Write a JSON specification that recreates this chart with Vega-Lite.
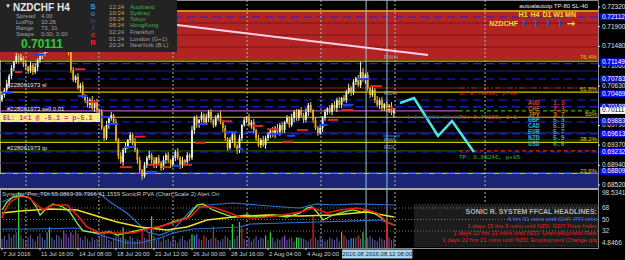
{
"$schema": "https://vega.github.io/schema/vega-lite/v6.json",
"width": 598, "height": 248,
"autosize": {"type": "none"},
"padding": {"left": 0, "top": 0, "right": 27, "bottom": 12},
"background": "#000000",
"config": {"view": {"stroke": "#8c8c8c", "strokeWidth": 1}, "legend": {"disable": true}, "font": "Liberation Sans Narrow, Liberation Sans, Arial, sans-serif"},
"datasets": {
"ohlc": [
{"i":0,"o":0.7033,"h":0.7050,"l":0.7029,"c":0.7044,"v":20,"vc":"n"},
{"i":1,"o":0.7044,"h":0.7059,"l":0.7038,"c":0.7055,"v":24,"vc":"n"},
{"i":2,"o":0.7055,"h":0.7076,"l":0.7050,"c":0.7068,"v":18,"vc":"n"},
{"i":3,"o":0.7068,"h":0.7089,"l":0.7059,"c":0.7085,"v":28,"vc":"n"},
{"i":4,"o":0.7085,"h":0.7108,"l":0.7078,"c":0.7102,"v":22,"vc":"n"},
{"i":5,"o":0.7102,"h":0.7117,"l":0.7095,"c":0.7115,"v":26,"vc":"n"},
{"i":6,"o":0.7115,"h":0.7134,"l":0.7110,"c":0.7127,"v":30,"vc":"n"},
{"i":7,"o":0.7127,"h":0.7132,"l":0.7112,"c":0.7119,"v":93,"vc":"g"},
{"i":8,"o":0.7119,"h":0.7132,"l":0.7115,"c":0.7123,"v":25,"vc":"n"},
{"i":9,"o":0.7123,"h":0.7127,"l":0.7104,"c":0.7112,"v":20,"vc":"n"},
{"i":10,"o":0.7112,"h":0.7119,"l":0.7097,"c":0.7104,"v":18,"vc":"n"},
{"i":11,"o":0.7104,"h":0.7106,"l":0.7089,"c":0.7095,"v":22,"vc":"n"},
{"i":12,"o":0.7095,"h":0.7115,"l":0.7091,"c":0.7108,"v":26,"vc":"n"},
{"i":13,"o":0.7108,"h":0.7112,"l":0.7087,"c":0.7093,"v":20,"vc":"n"},
{"i":14,"o":0.7093,"h":0.7112,"l":0.7089,"c":0.7104,"v":16,"vc":"n"},
{"i":15,"o":0.7104,"h":0.7123,"l":0.7095,"c":0.7119,"v":24,"vc":"n"},
{"i":16,"o":0.7119,"h":0.7134,"l":0.7112,"c":0.7127,"v":28,"vc":"n"},
{"i":17,"o":0.7127,"h":0.7134,"l":0.7121,"c":0.7132,"v":22,"vc":"n"},
{"i":18,"o":0.7132,"h":0.7147,"l":0.7127,"c":0.7140,"v":18,"vc":"n"},
{"i":19,"o":0.7140,"h":0.7153,"l":0.7134,"c":0.7149,"v":30,"vc":"b"},
{"i":20,"o":0.7149,"h":0.7166,"l":0.7144,"c":0.7157,"v":38,"vc":"g"},
{"i":21,"o":0.7157,"h":0.7166,"l":0.7149,"c":0.7162,"v":22,"vc":"n"},
{"i":22,"o":0.7162,"h":0.7168,"l":0.7147,"c":0.7153,"v":18,"vc":"n"},
{"i":23,"o":0.7153,"h":0.7168,"l":0.7147,"c":0.7166,"v":26,"vc":"n"},
{"i":24,"o":0.7166,"h":0.7179,"l":0.7162,"c":0.7172,"v":24,"vc":"n"},
{"i":25,"o":0.7172,"h":0.7176,"l":0.7155,"c":0.7162,"v":20,"vc":"n"},
{"i":26,"o":0.7162,"h":0.7170,"l":0.7151,"c":0.7155,"v":33,"vc":"m"},
{"i":27,"o":0.7155,"h":0.7159,"l":0.7140,"c":0.7149,"v":28,"vc":"n"},
{"i":28,"o":0.7149,"h":0.7155,"l":0.7129,"c":0.7136,"v":22,"vc":"n"},
{"i":29,"o":0.7136,"h":0.7138,"l":0.7091,"c":0.7097,"v":30,"vc":"m"},
{"i":30,"o":0.7097,"h":0.7104,"l":0.7072,"c":0.7076,"v":26,"vc":"n"},
{"i":31,"o":0.7076,"h":0.7087,"l":0.7070,"c":0.7083,"v":34,"vc":"r"},
{"i":32,"o":0.7083,"h":0.7091,"l":0.7055,"c":0.7059,"v":28,"vc":"n"},
{"i":33,"o":0.7059,"h":0.7070,"l":0.7050,"c":0.7065,"v":22,"vc":"n"},
{"i":34,"o":0.7065,"h":0.7072,"l":0.7038,"c":0.7044,"v":18,"vc":"n"},
{"i":35,"o":0.7044,"h":0.7046,"l":0.7027,"c":0.7033,"v":24,"vc":"n"},
{"i":36,"o":0.7033,"h":0.7040,"l":0.7018,"c":0.7023,"v":20,"vc":"n"},
{"i":37,"o":0.7023,"h":0.7038,"l":0.7016,"c":0.7033,"v":16,"vc":"n"},
{"i":38,"o":0.7033,"h":0.7042,"l":0.7012,"c":0.7016,"v":22,"vc":"n"},
{"i":39,"o":0.7016,"h":0.7033,"l":0.7008,"c":0.7029,"v":18,"vc":"n"},
{"i":40,"o":0.7029,"h":0.7036,"l":0.7006,"c":0.7012,"v":20,"vc":"n"},
{"i":41,"o":0.7012,"h":0.7014,"l":0.7001,"c":0.7008,"v":24,"vc":"n"},
{"i":42,"o":0.7008,"h":0.7014,"l":0.6969,"c":0.6974,"v":28,"vc":"n"},
{"i":43,"o":0.6974,"h":0.6978,"l":0.6946,"c":0.6952,"v":30,"vc":"n"},
{"i":44,"o":0.6952,"h":0.6989,"l":0.6948,"c":0.6980,"v":22,"vc":"n"},
{"i":45,"o":0.6980,"h":0.6999,"l":0.6972,"c":0.6995,"v":18,"vc":"n"},
{"i":46,"o":0.6995,"h":0.7008,"l":0.6989,"c":0.7001,"v":16,"vc":"n"},
{"i":47,"o":0.7001,"h":0.7004,"l":0.6980,"c":0.6986,"v":20,"vc":"n"},
{"i":48,"o":0.6986,"h":0.6993,"l":0.6944,"c":0.6948,"v":24,"vc":"n"},
{"i":49,"o":0.6948,"h":0.6952,"l":0.6907,"c":0.6914,"v":26,"vc":"n"},
{"i":50,"o":0.6914,"h":0.6922,"l":0.6897,"c":0.6901,"v":22,"vc":"n"},
{"i":51,"o":0.6901,"h":0.6931,"l":0.6893,"c":0.6927,"v":38,"vc":"g"},
{"i":52,"o":0.6927,"h":0.6942,"l":0.6920,"c":0.6935,"v":20,"vc":"n"},
{"i":53,"o":0.6935,"h":0.6950,"l":0.6929,"c":0.6948,"v":18,"vc":"n"},
{"i":54,"o":0.6948,"h":0.6965,"l":0.6944,"c":0.6959,"v":24,"vc":"n"},
{"i":55,"o":0.6959,"h":0.6963,"l":0.6937,"c":0.6944,"v":22,"vc":"n"},
{"i":56,"o":0.6944,"h":0.6952,"l":0.6922,"c":0.6927,"v":16,"vc":"n"},
{"i":57,"o":0.6927,"h":0.6931,"l":0.6897,"c":0.6905,"v":20,"vc":"n"},
{"i":58,"o":0.6905,"h":0.6912,"l":0.6878,"c":0.6884,"v":18,"vc":"n"},
{"i":59,"o":0.6884,"h":0.6886,"l":0.6863,"c":0.6871,"v":34,"vc":"r"},
{"i":60,"o":0.6871,"h":0.6901,"l":0.6867,"c":0.6895,"v":22,"vc":"n"},
{"i":61,"o":0.6895,"h":0.6914,"l":0.6888,"c":0.6910,"v":20,"vc":"n"},
{"i":62,"o":0.6910,"h":0.6925,"l":0.6905,"c":0.6916,"v":30,"vc":"r"},
{"i":63,"o":0.6916,"h":0.6920,"l":0.6897,"c":0.6905,"v":55,"vc":"g"},
{"i":64,"o":0.6905,"h":0.6912,"l":0.6888,"c":0.6895,"v":24,"vc":"n"},
{"i":65,"o":0.6895,"h":0.6912,"l":0.6888,"c":0.6910,"v":18,"vc":"n"},
{"i":66,"o":0.6910,"h":0.6916,"l":0.6895,"c":0.6899,"v":20,"vc":"n"},
{"i":67,"o":0.6899,"h":0.6903,"l":0.6882,"c":0.6888,"v":16,"vc":"n"},
{"i":68,"o":0.6888,"h":0.6914,"l":0.6884,"c":0.6905,"v":22,"vc":"n"},
{"i":69,"o":0.6905,"h":0.6920,"l":0.6897,"c":0.6916,"v":18,"vc":"n"},
{"i":70,"o":0.6916,"h":0.6922,"l":0.6899,"c":0.6905,"v":20,"vc":"n"},
{"i":71,"o":0.6905,"h":0.6907,"l":0.6888,"c":0.6895,"v":16,"vc":"n"},
{"i":72,"o":0.6895,"h":0.6916,"l":0.6890,"c":0.6910,"v":22,"vc":"n"},
{"i":73,"o":0.6910,"h":0.6927,"l":0.6903,"c":0.6922,"v":18,"vc":"n"},
{"i":74,"o":0.6922,"h":0.6931,"l":0.6905,"c":0.6910,"v":14,"vc":"n"},
{"i":75,"o":0.6910,"h":0.6914,"l":0.6886,"c":0.6895,"v":20,"vc":"n"},
{"i":76,"o":0.6895,"h":0.6912,"l":0.6888,"c":0.6905,"v":24,"vc":"n"},
{"i":77,"o":0.6905,"h":0.6907,"l":0.6895,"c":0.6901,"v":18,"vc":"n"},
{"i":78,"o":0.6901,"h":0.6922,"l":0.6897,"c":0.6916,"v":16,"vc":"n"},
{"i":79,"o":0.6916,"h":0.6920,"l":0.6903,"c":0.6910,"v":20,"vc":"n"},
{"i":80,"o":0.6910,"h":0.6978,"l":0.6905,"c":0.6969,"v":27,"vc":"g"},
{"i":81,"o":0.6969,"h":0.6999,"l":0.6961,"c":0.6995,"v":25,"vc":"b"},
{"i":82,"o":0.6995,"h":0.7001,"l":0.6974,"c":0.6980,"v":27,"vc":"m"},
{"i":83,"o":0.6980,"h":0.6993,"l":0.6974,"c":0.6991,"v":20,"vc":"n"},
{"i":84,"o":0.6991,"h":0.7008,"l":0.6986,"c":0.7001,"v":18,"vc":"n"},
{"i":85,"o":0.7001,"h":0.7006,"l":0.6980,"c":0.6986,"v":25,"vc":"r"},
{"i":86,"o":0.6986,"h":0.7004,"l":0.6982,"c":0.6995,"v":22,"vc":"n"},
{"i":87,"o":0.6995,"h":0.7012,"l":0.6986,"c":0.7008,"v":18,"vc":"n"},
{"i":88,"o":0.7008,"h":0.7014,"l":0.6984,"c":0.6991,"v":20,"vc":"n"},
{"i":89,"o":0.6991,"h":0.6993,"l":0.6974,"c":0.6980,"v":39,"vc":"r"},
{"i":90,"o":0.6980,"h":0.7001,"l":0.6976,"c":0.6995,"v":22,"vc":"n"},
{"i":91,"o":0.6995,"h":0.7006,"l":0.6989,"c":0.7001,"v":18,"vc":"n"},
{"i":92,"o":0.7001,"h":0.7010,"l":0.6982,"c":0.6986,"v":16,"vc":"n"},
{"i":93,"o":0.6986,"h":0.6991,"l":0.6965,"c":0.6974,"v":20,"vc":"n"},
{"i":94,"o":0.6974,"h":0.6980,"l":0.6946,"c":0.6952,"v":24,"vc":"n"},
{"i":95,"o":0.6952,"h":0.6954,"l":0.6925,"c":0.6931,"v":22,"vc":"n"},
{"i":96,"o":0.6931,"h":0.6954,"l":0.6927,"c":0.6948,"v":18,"vc":"n"},
{"i":97,"o":0.6948,"h":0.6963,"l":0.6942,"c":0.6959,"v":43,"vc":"g"},
{"i":98,"o":0.6959,"h":0.6967,"l":0.6931,"c":0.6935,"v":20,"vc":"n"},
{"i":99,"o":0.6935,"h":0.6939,"l":0.6918,"c":0.6927,"v":24,"vc":"n"},
{"i":100,"o":0.6927,"h":0.6959,"l":0.6920,"c":0.6952,"v":46,"vc":"g"},
{"i":101,"o":0.6952,"h":0.6982,"l":0.6946,"c":0.6980,"v":37,"vc":"r"},
{"i":102,"o":0.6980,"h":0.6997,"l":0.6976,"c":0.6991,"v":20,"vc":"n"},
{"i":103,"o":0.6991,"h":0.6999,"l":0.6984,"c":0.6995,"v":18,"vc":"n"},
{"i":104,"o":0.6995,"h":0.7004,"l":0.6976,"c":0.6980,"v":22,"vc":"n"},
{"i":105,"o":0.6980,"h":0.6991,"l":0.6972,"c":0.6986,"v":16,"vc":"n"},
{"i":106,"o":0.6986,"h":0.6993,"l":0.6963,"c":0.6969,"v":20,"vc":"n"},
{"i":107,"o":0.6969,"h":0.6972,"l":0.6946,"c":0.6952,"v":24,"vc":"n"},
{"i":108,"o":0.6952,"h":0.6959,"l":0.6933,"c":0.6937,"v":18,"vc":"n"},
{"i":109,"o":0.6937,"h":0.6952,"l":0.6931,"c":0.6948,"v":22,"vc":"n"},
{"i":110,"o":0.6948,"h":0.6957,"l":0.6933,"c":0.6937,"v":20,"vc":"n"},
{"i":111,"o":0.6937,"h":0.6957,"l":0.6929,"c":0.6952,"v":25,"vc":"g"},
{"i":112,"o":0.6952,"h":0.6965,"l":0.6946,"c":0.6959,"v":18,"vc":"n"},
{"i":113,"o":0.6959,"h":0.6972,"l":0.6952,"c":0.6969,"v":30,"vc":"g"},
{"i":114,"o":0.6969,"h":0.6976,"l":0.6954,"c":0.6959,"v":22,"vc":"n"},
{"i":115,"o":0.6959,"h":0.6978,"l":0.6952,"c":0.6974,"v":16,"vc":"n"},
{"i":116,"o":0.6974,"h":0.6982,"l":0.6961,"c":0.6965,"v":20,"vc":"n"},
{"i":117,"o":0.6965,"h":0.6984,"l":0.6957,"c":0.6980,"v":18,"vc":"n"},
{"i":118,"o":0.6980,"h":0.6986,"l":0.6963,"c":0.6969,"v":22,"vc":"n"},
{"i":119,"o":0.6969,"h":0.6989,"l":0.6963,"c":0.6986,"v":25,"vc":"m"},
{"i":120,"o":0.6986,"h":0.7001,"l":0.6982,"c":0.6995,"v":18,"vc":"n"},
{"i":121,"o":0.6995,"h":0.6999,"l":0.6974,"c":0.6980,"v":20,"vc":"n"},
{"i":122,"o":0.6980,"h":0.7004,"l":0.6976,"c":0.6995,"v":22,"vc":"n"},
{"i":123,"o":0.6995,"h":0.7012,"l":0.6986,"c":0.7008,"v":16,"vc":"n"},
{"i":124,"o":0.7008,"h":0.7014,"l":0.6989,"c":0.6995,"v":22,"vc":"g"},
{"i":125,"o":0.6995,"h":0.7014,"l":0.6989,"c":0.7012,"v":22,"vc":"g"},
{"i":126,"o":0.7012,"h":0.7018,"l":0.6997,"c":0.7001,"v":21,"vc":"b"},
{"i":127,"o":0.7001,"h":0.7006,"l":0.6984,"c":0.6991,"v":20,"vc":"n"},
{"i":128,"o":0.6991,"h":0.7016,"l":0.6986,"c":0.7008,"v":18,"vc":"n"},
{"i":129,"o":0.7008,"h":0.7027,"l":0.6999,"c":0.7023,"v":16,"vc":"n"},
{"i":130,"o":0.7023,"h":0.7029,"l":0.7006,"c":0.7012,"v":20,"vc":"n"},
{"i":131,"o":0.7012,"h":0.7014,"l":0.6984,"c":0.6991,"v":55,"vc":"r"},
{"i":132,"o":0.6991,"h":0.6997,"l":0.6969,"c":0.6974,"v":22,"vc":"n"},
{"i":133,"o":0.6974,"h":0.6978,"l":0.6957,"c":0.6963,"v":18,"vc":"n"},
{"i":134,"o":0.6963,"h":0.6982,"l":0.6959,"c":0.6974,"v":24,"vc":"n"},
{"i":135,"o":0.6974,"h":0.6999,"l":0.6965,"c":0.6995,"v":20,"vc":"n"},
{"i":136,"o":0.6995,"h":0.7014,"l":0.6989,"c":0.7008,"v":16,"vc":"n"},
{"i":137,"o":0.7008,"h":0.7018,"l":0.7001,"c":0.7016,"v":18,"vc":"n"},
{"i":138,"o":0.7016,"h":0.7023,"l":0.7004,"c":0.7008,"v":22,"vc":"n"},
{"i":139,"o":0.7008,"h":0.7027,"l":0.7001,"c":0.7023,"v":20,"vc":"n"},
{"i":140,"o":0.7023,"h":0.7031,"l":0.7012,"c":0.7016,"v":18,"vc":"n"},
{"i":141,"o":0.7016,"h":0.7038,"l":0.7008,"c":0.7033,"v":22,"vc":"n"},
{"i":142,"o":0.7033,"h":0.7040,"l":0.7016,"c":0.7023,"v":16,"vc":"n"},
{"i":143,"o":0.7023,"h":0.7040,"l":0.7016,"c":0.7038,"v":30,"vc":"g"},
{"i":144,"o":0.7038,"h":0.7044,"l":0.7029,"c":0.7033,"v":25,"vc":"r"},
{"i":145,"o":0.7033,"h":0.7055,"l":0.7027,"c":0.7050,"v":20,"vc":"n"},
{"i":146,"o":0.7050,"h":0.7068,"l":0.7046,"c":0.7059,"v":18,"vc":"n"},
{"i":147,"o":0.7059,"h":0.7063,"l":0.7042,"c":0.7050,"v":21,"vc":"b"},
{"i":148,"o":0.7050,"h":0.7078,"l":0.7044,"c":0.7072,"v":21,"vc":"b"},
{"i":149,"o":0.7072,"h":0.7083,"l":0.7065,"c":0.7080,"v":22,"vc":"n"},
{"i":150,"o":0.7080,"h":0.7087,"l":0.7061,"c":0.7065,"v":25,"vc":"r"},
{"i":151,"o":0.7065,"h":0.7115,"l":0.7059,"c":0.7093,"v":20,"vc":"n"},
{"i":152,"o":0.7093,"h":0.7102,"l":0.7072,"c":0.7076,"v":30,"vc":"g"},
{"i":153,"o":0.7076,"h":0.7091,"l":0.7068,"c":0.7087,"v":18,"vc":"n"},
{"i":154,"o":0.7087,"h":0.7093,"l":0.7053,"c":0.7059,"v":22,"vc":"n"},
{"i":155,"o":0.7059,"h":0.7061,"l":0.7038,"c":0.7044,"v":24,"vc":"n"},
{"i":156,"o":0.7044,"h":0.7061,"l":0.7040,"c":0.7055,"v":20,"vc":"n"},
{"i":157,"o":0.7055,"h":0.7059,"l":0.7027,"c":0.7033,"v":18,"vc":"n"},
{"i":158,"o":0.7033,"h":0.7042,"l":0.7018,"c":0.7023,"v":16,"vc":"n"},
{"i":159,"o":0.7023,"h":0.7038,"l":0.7014,"c":0.7033,"v":22,"vc":"n"},
{"i":160,"o":0.7033,"h":0.7040,"l":0.7010,"c":0.7016,"v":20,"vc":"n"},
{"i":161,"o":0.7016,"h":0.7027,"l":0.7010,"c":0.7025,"v":18,"vc":"n"},
{"i":162,"o":0.7025,"h":0.7031,"l":0.7008,"c":0.7012,"v":44,"vc":"r"},
{"i":163,"o":0.7012,"h":0.7025,"l":0.7006,"c":0.7021,"v":22,"vc":"n"},
{"i":164,"o":0.7021,"h":0.7029,"l":0.7001,"c":0.7006,"v":18,"vc":"n"},
{"i":165,"o":0.7006,"h":0.7016,"l":0.6997,"c":0.70111,"v":20,"vc":"n"}
],
"zones": [{"k":"zred","lo":0.71188,"hi":0.72234},{"k":"zblue","lo":0.68455,"hi":0.68754}],
"lvSolid": [{"p":0.71978,"k":"dred"},{"p":0.71722,"k":"dred"},{"p":0.71466,"k":"dred"},{"p":0.71163,"k":"fib"},{"p":0.70501,"k":"fib"},{"p":0.69966,"k":"fib"},{"p":0.69430,"k":"fib"},{"p":0.68768,"k":"fib"},{"p":0.70953,"k":"navy"},{"p":0.69630,"k":"navy"},{"p":0.68989,"k":"navy"},{"p":0.69480,"k":"dgrn"}],
"lvThick": [{"p":0.72234,"k":"orn"},{"p":0.68434,"k":"sep"}],
"lvBlue": [{"p":0.72106},{"p":0.71110},{"p":0.70782},{"p":0.70334},{"p":0.70185},{"p":0.69864},{"p":0.69608},{"p":0.69224},{"p":0.68776}],
"segs": [{"k":"sl","p":0.70590,"a":-0.84,"b":192.4},{"k":"mag","p":0.70100,"a":-0.84,"b":192.4},{"k":"dgrn","p":0.69246,"a":-0.84,"b":192.4},{"k":"stb","p":0.69565,"a":160.4,"b":167.6}],
"segsDash": [{"k":"gdash","p":0.70100,"a":192.4,"b":250.96},{"k":"red","p":0.69246,"a":192.4,"b":250.96}],
"segsDD": [{"k":"red","p":0.70590,"a":192.4,"b":250.96}],
"weeks": [{"i":10.1},{"i":40.8},{"i":72.0},{"i":103.2},{"i":134.3},{"i":165.5},{"i":203.4}],
"cursor": [{"i":153.3},{"i":162.1}],
"trend": [{"i":73.7,"p":0.71935},{"i":179.4,"p":0.71295}],
"zigzag": [{"i":167.6,"p":0.70270},{"i":173.5,"p":0.70377},{"i":183.6,"p":0.69565},{"i":189.5,"p":0.69886},{"i":198.7,"p":0.69224}],
"marks": [
{"k":"red","p":0.7093,"a":5.5,"b":8.4},{"k":"blu","p":0.7049,"a":0,"b":4.6},{"k":"blu","p":0.7130,"a":13,"b":18},
{"k":"red","p":0.7099,"a":30.7,"b":35},{"k":"blu","p":0.7042,"a":32,"b":36},{"k":"red","p":0.7029,"a":36.6,"b":40},
{"k":"blu","p":0.6997,"a":41.3,"b":45.5},{"k":"blu","p":0.6982,"a":44,"b":49},{"k":"red","p":0.6890,"a":49.7,"b":54.7},
{"k":"blu","p":0.6933,"a":51.8,"b":56},{"k":"red","p":0.6955,"a":56,"b":60.2},{"k":"red","p":0.6895,"a":61.5,"b":66.5},
{"k":"blu","p":0.6880,"a":60.2,"b":65.3},{"k":"red","p":0.6890,"a":67.8,"b":70.7},{"k":"blu","p":0.6893,"a":72,"b":75},
{"k":"red","p":0.6895,"a":76.2,"b":80},{"k":"red","p":0.6942,"a":81.3,"b":85.5},{"k":"blu","p":0.6982,"a":82.1,"b":86.7},
{"k":"red","p":0.6988,"a":92.6,"b":96.8},{"k":"blu","p":0.6965,"a":93.9,"b":98.9},{"k":"blu","p":0.6929,"a":99,"b":101.5},
{"k":"blu","p":0.6965,"a":103.2,"b":105.7},{"k":"red","p":0.6978,"a":105.3,"b":109.9},{"k":"red","p":0.6971,"a":111.6,"b":116.2},
{"k":"blu","p":0.6961,"a":112.8,"b":117},{"k":"red","p":0.6944,"a":118,"b":122.5},{"k":"blu","p":0.6957,"a":120,"b":123.4},
{"k":"red","p":0.6969,"a":124.2,"b":128.8},{"k":"blu","p":0.6980,"a":134,"b":137},{"k":"red","p":0.6991,"a":137.3,"b":141.5},
{"k":"red","p":0.7012,"a":143,"b":147.8},{"k":"blu","p":0.7023,"a":143.6,"b":147.8},{"k":"red","p":0.7063,"a":155,"b":160},
{"k":"blu","p":0.7078,"a":149.5,"b":155},{"k":"red","p":0.7016,"a":162,"b":164.6}
],
"panel": [{"lo":0.71359,"hi":0.72469}],
"el": [{"p":0.6996,"t":"EL: 1<1 @ -5.1 = p-5.1"}],
"xlab": [{"i":0,"t":"7 Jul 2016"},{"i":16,"t":"11 Jul 16:00"},{"i":32,"t":"14 Jul 08:00"},{"i":48,"t":"18 Jul 20:00"},{"i":64,"t":"21 Jul 12:00"},{"i":80,"t":"26 Jul 00:00"},{"i":96,"t":"28 Jul 16:00"},{"i":112,"t":"2 Aug 04:00"},{"i":128,"t":"4 Aug 20:00"}],
"ylab": [{"p":0.7232},{"p":0.719},{"p":0.7148},{"p":0.7106},{"p":0.7063},{"p":0.6979},{"p":0.6937},{"p":0.6894},{"p":0.6852}],
"axb": [{"p":0.72112},{"p":0.71149},{"p":0.70783},{"p":0.70469},{"p":0.70188},{"p":0.69883},{"p":0.69613},{"p":0.69232},{"p":0.68809}],
"cur": [{"p":0.70111}],
"hl": [{"p":0.67046,"t":"2016.08 2016.08.12 08:00"}],
"tInfo": [
{"i":1.3,"p":0.72341,"t":"▼","k":"white"},
{"i":5.9,"p":0.72127,"t":"Spread","k":"gray"},{"i":16.4,"p":0.72127,"t":"4.00","k":"gray"},
{"i":5.9,"p":0.71999,"t":"LotPip","k":"gray"},{"i":16.4,"p":0.71999,"t":"10.26","k":"gray"},
{"i":5.9,"p":0.71871,"t":"Range","k":"gray"},{"i":16.4,"p":0.71871,"t":"73, 31","k":"gray"},
{"i":5.9,"p":0.71743,"t":"Swaps","k":"gray"},{"i":16.4,"p":0.71743,"t":"0.00, 0.00","k":"gray"},
{"i":45.1,"p":0.72320,"t":"12:24","k":"tan"},{"i":53.9,"p":0.72320,"t":"Auckland","k":"cgrn"},
{"i":45.1,"p":0.72191,"t":"10:24","k":"tan"},{"i":53.9,"p":0.72191,"t":"Sydney","k":"cgrn"},
{"i":45.1,"p":0.72063,"t":"09:24","k":"tan"},{"i":53.9,"p":0.72063,"t":"Tokyo","k":"cgrn"},
{"i":45.1,"p":0.71935,"t":"08:24","k":"tan"},{"i":53.9,"p":0.71935,"t":"HongKong","k":"cgrn"},
{"i":45.1,"p":0.71786,"t":"02:24","k":"gray"},{"i":53.9,"p":0.71786,"t":"Frankfurt","k":"gray"},
{"i":45.1,"p":0.71636,"t":"01:24","k":"gray"},{"i":53.9,"p":0.71636,"t":"London (G+1)","k":"gray"},
{"i":45.1,"p":0.71508,"t":"20:24","k":"gray"},{"i":53.9,"p":0.71508,"t":"NewYork (B.L)","k":"gray"},
{"i":2.1,"p":0.70654,"t":"#228061973 sl","k":"white"},
{"i":2.1,"p":0.70142,"t":"#228061973 sell 0.01","k":"white"},
{"i":2.1,"p":0.69309,"t":"#228061973 tp","k":"white"},
{"i":160.8,"p":0.71252,"t":"RWH","k":"gray"},{"i":160.8,"p":0.70484,"t":"RDH","k":"gray"},
{"i":160.8,"p":0.69480,"t":"RWL","k":"gray"},{"i":160.8,"p":0.69331,"t":"RDL","k":"gray"}
],
"tRight": [
{"i":250.5,"p":0.71252,"t":"76.4%","k":"fib"},{"i":250.5,"p":0.70569,"t":"61.8%","k":"fib"},
{"i":250.5,"p":0.70035,"t":"50%","k":"fib"},{"i":250.5,"p":0.69501,"t":"38.2%","k":"fib"},
{"i":250.5,"p":0.68818,"t":"23.6%","k":"fib"},{"i":246.7,"p":0.72341,"t":"autoalautotp TP-80 SL-40","k":"white"}
],
"tMono": [
{"i":192.4,"p":0.70484,"t":"S: 0.70590, p-49","k":"red"},
{"i":192.4,"p":0.69971,"t":"AV: 0.70100, 1:1","k":"avc"},
{"i":170.5,"p":0.69971,"t":"0.0.00000 00:00","k":"dkb"},
{"i":192.4,"p":0.69117,"t":"TP: 0.69246, p+85","k":"tpg"}
],
"tCur": [
{"i":221.5,"p":0.70276,"t":"AUD","k":"s5"},{"i":232,"p":0.70276,"t":"1.3","k":"s5"},
{"i":221.5,"p":0.70150,"t":"CHF","k":"chf"},{"i":232,"p":0.70150,"t":"2.3","k":"chf"},
{"i":221.5,"p":0.70024,"t":"JPY","k":"orng"},{"i":232,"p":0.70024,"t":"3.7","k":"orng"},
{"i":221.5,"p":0.69898,"t":"GBP","k":"teal"},{"i":232,"p":0.69898,"t":"5.3","k":"teal"},
{"i":221.5,"p":0.69772,"t":"CAD","k":"teal"},{"i":232,"p":0.69772,"t":"5.3","k":"teal"},
{"i":221.5,"p":0.69647,"t":"EUR","k":"teal"},{"i":232,"p":0.69647,"t":"5.7","k":"teal"},
{"i":221.5,"p":0.69521,"t":"NZD","k":"teal"},{"i":232,"p":0.69521,"t":"5.9","k":"teal"},
{"i":221.5,"p":0.69395,"t":"USD","k":"teal"},{"i":232,"p":0.69395,"t":"6.0","k":"teal"}
],
"tHead": [{"i":4.6,"p":0.72298,"t":"NZDCHF","k":"white"},{"i":23.2,"p":0.72298,"t":"H4","k":"white"}],
"tPrice": [{"i":8,"p":0.7152,"t":"0.70111","k":"big"}],
"tSonic": [
{"i":38.3,"p":0.72320,"t":"S","k":"s1"},{"i":38.3,"p":0.72170,"t":"o","k":"s2"},{"i":38.3,"p":0.72021,"t":"n","k":"s3"},
{"i":38.3,"p":0.71871,"t":"i","k":"s4"},{"i":38.3,"p":0.71722,"t":"c","k":"s5"},{"i":38.3,"p":0.71551,"t":"R","k":"rR"}
],
"tTF": [
{"i":219.4,"p":0.72149,"t":"H1","k":"yel"},{"i":224.4,"p":0.72149,"t":"H4","k":"yel"},{"i":229.5,"p":0.72149,"t":"D1","k":"yel"},
{"i":234.3,"p":0.72149,"t":"W1","k":"yel"},{"i":239.4,"p":0.72149,"t":"MN","k":"yel"},{"i":211.2,"p":0.71957,"t":"NZDCHF","k":"yel"}
],
"tArrow": [
{"i":219.8,"p":0.71957,"t":"↑","k":"arw"},{"i":224.8,"p":0.71957,"t":"↑","k":"arw"},{"i":229.9,"p":0.71957,"t":"↑","k":"arw"},
{"i":234.9,"p":0.71957,"t":"↑","k":"arw"},{"i":239.6,"p":0.71957,"t":"→","k":"yel"}
],
"hbox": [{"lo":7,"hi":74.3}],
"lev": [{"v":68},{"v":50},{"v":32}],
"ind": [
{"k":"ub","i":0,"v":77.4},{"k":"ub","i":4.6,"v":85.2},{"k":"ub","i":7.6,"v":89.9},{"k":"ub","i":41.3,"v":89.9},{"k":"ub","i":45.5,"v":77.4},{"k":"ub","i":52.6,"v":60.2},{"k":"ub","i":61.1,"v":30.4},{"k":"ub","i":66.5,"v":25.7},{"k":"ub","i":72,"v":33.6},{"k":"ub","i":80.4,"v":68},{"k":"ub","i":86.3,"v":72.7},{"k":"ub","i":97.3,"v":75.8},{"k":"ub","i":107.4,"v":72.7},{"k":"ub","i":118.3,"v":69.6},{"k":"ub","i":125.5,"v":68},{"k":"ub","i":132.6,"v":74.3},{"k":"ub","i":139.4,"v":72.7},{"k":"ub","i":149.5,"v":74.3},{"k":"ub","i":165,"v":72.7},
{"k":"lb","i":0,"v":35.1},{"k":"lb","i":13.1,"v":35.1},{"k":"lb","i":31.6,"v":36.7},{"k":"lb","i":37.1,"v":30.4},{"k":"lb","i":45.5,"v":21},{"k":"lb","i":52.6,"v":13.2},{"k":"lb","i":58.1,"v":13.2},{"k":"lb","i":66.5,"v":21},{"k":"lb","i":72,"v":28.9},{"k":"lb","i":80.4,"v":35.1},{"k":"lb","i":90.5,"v":36.7},{"k":"lb","i":100.2,"v":38.3},{"k":"lb","i":104.4,"v":43},{"k":"lb","i":118.3,"v":44.5},{"k":"lb","i":132.6,"v":46.1},{"k":"lb","i":149.5,"v":47.7},{"k":"lb","i":159.2,"v":49.2},{"k":"lb","i":165,"v":41.4},
{"k":"yl","i":0,"v":60.2},{"k":"yl","i":7.6,"v":63.3},{"k":"yl","i":20.2,"v":66.4},{"k":"yl","i":31.6,"v":64.9},{"k":"yl","i":41.3,"v":53.9},{"k":"yl","i":48.4,"v":46.1},{"k":"yl","i":58.1,"v":38.3},{"k":"yl","i":69.5,"v":33.6},{"k":"yl","i":77.9,"v":38.3},{"k":"yl","i":86.3,"v":49.2},{"k":"yl","i":97.3,"v":53.9},{"k":"yl","i":111.6,"v":57},{"k":"yl","i":125.5,"v":55.5},{"k":"yl","i":139.4,"v":57},{"k":"yl","i":153.7,"v":61.7},{"k":"yl","i":165,"v":53.9},
{"k":"gr","i":0,"v":64.9},{"k":"gr","i":2.1,"v":77.4},{"k":"gr","i":4.6,"v":85.2},{"k":"gr","i":8.8,"v":86.8},{"k":"gr","i":11.8,"v":83.7},{"k":"gr","i":14.7,"v":68},{"k":"gr","i":16,"v":57},{"k":"gr","i":18.9,"v":68},{"k":"gr","i":21.5,"v":74.3},{"k":"gr","i":25.7,"v":69.6},{"k":"gr","i":28.6,"v":61.7},{"k":"gr","i":31.6,"v":44.5},{"k":"gr","i":34.1,"v":32},{"k":"gr","i":40,"v":28.9},{"k":"gr","i":45.5,"v":30.4},{"k":"gr","i":48.4,"v":25.7},{"k":"gr","i":52.6,"v":28.9},{"k":"gr","i":58.1,"v":33.6},{"k":"gr","i":62.3,"v":36.7},{"k":"gr","i":66.5,"v":38.3},{"k":"gr","i":72,"v":46.1},{"k":"gr","i":77.9,"v":52.4},{"k":"gr","i":82.1,"v":72.7},{"k":"gr","i":84.6,"v":74.3},{"k":"gr","i":88.8,"v":64.9},{"k":"gr","i":94.7,"v":57},{"k":"gr","i":97.3,"v":53.9},{"k":"gr","i":103.2,"v":57},{"k":"gr","i":108.6,"v":53.9},{"k":"gr","i":114.1,"v":57},{"k":"gr","i":120,"v":53.9},{"k":"gr","i":125.5,"v":60.2},{"k":"gr","i":128.4,"v":68},{"k":"gr","i":130.5,"v":69.6},{"k":"gr","i":132.6,"v":61.7},{"k":"gr","i":135.2,"v":49.2},{"k":"gr","i":139.4,"v":57},{"k":"gr","i":143.6,"v":61.7},{"k":"gr","i":147.8,"v":64.9},{"k":"gr","i":151.6,"v":61.7},{"k":"gr","i":153.7,"v":64.9},{"k":"gr","i":157.9,"v":57},{"k":"gr","i":162.1,"v":46.1},{"k":"gr","i":165,"v":41.4},
{"k":"rd","i":0,"v":52.4},{"k":"rd","i":1.3,"v":64.9},{"k":"rd","i":3.4,"v":77.4},{"k":"rd","i":7.6,"v":86.8},{"k":"rd","i":10.9,"v":85.2},{"k":"rd","i":14.7,"v":72.7},{"k":"rd","i":17.3,"v":64.9},{"k":"rd","i":21.5,"v":72.7},{"k":"rd","i":27.4,"v":72.7},{"k":"rd","i":31.6,"v":57},{"k":"rd","i":35.8,"v":38.3},{"k":"rd","i":41.3,"v":28.9},{"k":"rd","i":48.4,"v":28.9},{"k":"rd","i":55.2,"v":28.9},{"k":"rd","i":59.4,"v":33.6},{"k":"rd","i":65.3,"v":38.3},{"k":"rd","i":72,"v":44.5},{"k":"rd","i":79.2,"v":53.9},{"k":"rd","i":83.4,"v":69.6},{"k":"rd","i":88.8,"v":69.6},{"k":"rd","i":94.7,"v":61.7},{"k":"rd","i":100.2,"v":53.9},{"k":"rd","i":105.7,"v":52.4},{"k":"rd","i":111.6,"v":53.9},{"k":"rd","i":118.3,"v":57},{"k":"rd","i":125.5,"v":61.7},{"k":"rd","i":131,"v":68},{"k":"rd","i":136.8,"v":60.2},{"k":"rd","i":142.3,"v":64.9},{"k":"rd","i":149.5,"v":68},{"k":"rd","i":153.7,"v":64.9},{"k":"rd","i":157.9,"v":60.2},{"k":"rd","i":162.1,"v":46.1},{"k":"rd","i":165,"v":41.4}
],
"ititle": [{"i":0,"v":89.9,"t":"Synergy_Pro_TDI 55.0863-39.7366 41.1559  SonicR PVA  (Chart Scale 2)  Alert On"}],
"hdr": [{"i":250.5,"v":61.7,"t":"SONIC R. SYSTEM  FFCAL HEADLINES:"}],
"news": [
{"i":250.5,"v":50.8,"t":"6 hrs 51 mins until CHF: PPI m/m","k":"hblue"},
{"i":250.5,"v":39.8,"t":"1 days 15 hrs 9 mins until NZD: GDT Price Index","k":"hred"},
{"i":250.5,"v":28.9,"t":"1 days 22 hrs 21 mins until NZD: Unemployment Rate","k":"hred"},
{"i":250.5,"v":17.9,"t":"1 days 22 hrs 21 mins until NZD: Employment Change q/q","k":"hred"}
],
"iaxis": [{"i":252.6,"v":91.5,"t":"98.5341"},{"i":252.6,"v":68,"t":"68"},{"i":252.6,"v":50,"t":"50"},{"i":252.6,"v":32,"t":"32"},{"i":252.6,"v":13.2,"t":"4.8466"}]
},
"resolve": {"scale": {"y": "independent", "color": "independent"}, "axis": {"y": "independent"}},
"layer": [
{"layer": [
{"data": {"name": "zones"}, "mark": {"type": "rect"}, "encoding": {
 "x": {"datum": -0.84, "type": "quantitative", "scale": {"domain": [-0.84, 250.96], "nice": false, "zero": false}, "axis": null},
 "x2": {"datum": 250.96},
 "y": {"field": "lo", "type": "quantitative", "scale": {"domain": [0.67174, 0.72469], "nice": false, "zero": false}, "axis": null},
 "y2": {"field": "hi"},
 "color": {"field": "k", "type": "nominal", "legend": null, "scale": {
  "domain": ["zred","zblue","panel","elbox","orn","dred","fib","navy","dgrn","sl","red","mag","gdash","sep","stb","blu","white","gray","tan","cgrn","big","s1","s2","s3","s4","s5","rR","yel","arw","pink","chf","orng","avc","teal","tpg","dkb"],
  "range": ["#b22323","#1c2478","#232323","#f2ec8c","#c8901c","#7a1414","#d8c400","#26266e","#0e5a0e","#b01c1c","#e42424","#b850c8","#28b428","#a8a8a8","#3070b8","#2040ff","#e8e8e8","#a0a0a0","#c8a050","#40b040","#26d026","#2ca0ff","#2a68d8","#2a44a8","#a03030","#d83030","#ff2020","#f0e020","#2050ff","#e83060","#d04828","#e07020","#c86020","#22b0b8","#22c040","#3050b0"]}}
}},
{"data": {"name": "lvSolid"}, "mark": {"type": "rule", "strokeWidth": 1.2}, "encoding": {
 "y": {"field": "p", "type": "quantitative", "axis": null}, "color": {"field": "k", "type": "nominal", "legend": null}}},
{"data": {"name": "lvThick"}, "mark": {"type": "rule", "strokeWidth": 2}, "encoding": {
 "y": {"field": "p", "type": "quantitative", "axis": null}, "color": {"field": "k", "type": "nominal", "legend": null}}},
{"data": {"name": "lvBlue"}, "mark": {"type": "rule", "strokeWidth": 1.2, "color": "#2020f0", "strokeDash": [8, 5]}, "encoding": {
 "y": {"field": "p", "type": "quantitative", "axis": null}}},
{"data": {"name": "segs"}, "mark": {"type": "rule", "strokeWidth": 1.2}, "encoding": {
 "x": {"field": "a", "type": "quantitative", "axis": null}, "x2": {"field": "b"},
 "y": {"field": "p", "type": "quantitative", "axis": null}, "color": {"field": "k", "type": "nominal", "legend": null}}},
{"data": {"name": "segsDash"}, "mark": {"type": "rule", "strokeWidth": 1.2, "strokeDash": [4, 3]}, "encoding": {
 "x": {"field": "a", "type": "quantitative", "axis": null}, "x2": {"field": "b"},
 "y": {"field": "p", "type": "quantitative", "axis": null}, "color": {"field": "k", "type": "nominal", "legend": null}}},
{"data": {"name": "segsDD"}, "mark": {"type": "rule", "strokeWidth": 1.2, "strokeDash": [6, 2, 2, 2]}, "encoding": {
 "x": {"field": "a", "type": "quantitative", "axis": null}, "x2": {"field": "b"},
 "y": {"field": "p", "type": "quantitative", "axis": null}, "color": {"field": "k", "type": "nominal", "legend": null}}},
{"data": {"name": "weeks"}, "mark": {"type": "rule", "strokeWidth": 1, "color": "#b0b0b0", "strokeDash": [2, 2]}, "encoding": {
 "x": {"field": "i", "type": "quantitative", "axis": null}}},
{"data": {"name": "cursor"}, "mark": {"type": "rule", "strokeWidth": 1, "color": "#8cc8e8"}, "encoding": {
 "x": {"field": "i", "type": "quantitative", "axis": null}}},
{"data": {"name": "trend"}, "mark": {"type": "line", "strokeWidth": 2, "color": "#ffd0e4"}, "encoding": {
 "x": {"field": "i", "type": "quantitative", "axis": null}, "y": {"field": "p", "type": "quantitative", "axis": null}}},
{"data": {"name": "ohlc"}, "mark": {"type": "rule", "strokeWidth": 1}, "encoding": {
 "x": {"field": "i", "type": "quantitative", "axis": null},
 "y": {"field": "l", "type": "quantitative", "axis": null}, "y2": {"field": "h"},
 "color": {"condition": {"test": "datum.c >= datum.o", "value": "#e6f6da"}, "value": "#e8d040"}}},
{"data": {"name": "ohlc"}, "mark": {"type": "rule", "strokeWidth": 1.8}, "encoding": {
 "x": {"field": "i", "type": "quantitative", "axis": null},
 "y": {"field": "o", "type": "quantitative", "axis": null},
 "y2": {"field": "c"},
 "color": {"condition": {"test": "datum.c >= datum.o", "value": "#e6f6da"}, "value": "#f0a818"}}},
{"data": {"name": "marks"}, "mark": {"type": "rule", "strokeWidth": 2}, "encoding": {
 "x": {"field": "a", "type": "quantitative", "axis": null}, "x2": {"field": "b"},
 "y": {"field": "p", "type": "quantitative", "axis": null}, "color": {"field": "k", "type": "nominal", "legend": null}}},
{"data": {"name": "zigzag"}, "mark": {"type": "line", "strokeWidth": 2.5, "color": "#48e6e6"}, "encoding": {
 "x": {"field": "i", "type": "quantitative", "axis": null}, "y": {"field": "p", "type": "quantitative", "axis": null}}},
{"data": {"name": "el"}, "mark": {"type": "rule", "strokeWidth": 9, "color": "#f2ec8c"}, "encoding": {
 "x": {"datum": -0.84, "type": "quantitative", "axis": null}, "x2": {"datum": 41.3},
 "y": {"field": "p", "type": "quantitative", "axis": null}}},
{"data": {"name": "el"}, "mark": {"type": "text", "align": "left", "baseline": "middle", "font": "Liberation Mono, DejaVu Sans Mono, monospace", "fontSize": 6.8, "fontWeight": "bold", "color": "#e83060"}, "encoding": {
 "x": {"datum": 0.4, "type": "quantitative", "axis": null}, "y": {"field": "p", "type": "quantitative", "axis": null}, "text": {"field": "t"}}},
{"data": {"name": "panel"}, "mark": {"type": "rect", "color": "#232323"}, "encoding": {
 "x": {"datum": -0.84, "type": "quantitative", "axis": null}, "x2": {"datum": 73.7},
 "y": {"field": "lo", "type": "quantitative", "axis": null}, "y2": {"field": "hi"}}},
{"data": {"name": "tInfo"}, "mark": {"type": "text", "align": "left", "baseline": "middle", "fontSize": 6}, "encoding": {
 "x": {"field": "i", "type": "quantitative", "axis": null}, "y": {"field": "p", "type": "quantitative", "axis": null},
 "text": {"field": "t"}, "color": {"field": "k", "type": "nominal", "legend": null}}},
{"data": {"name": "tRight"}, "mark": {"type": "text", "align": "right", "baseline": "middle", "fontSize": 6}, "encoding": {
 "x": {"field": "i", "type": "quantitative", "axis": null}, "y": {"field": "p", "type": "quantitative", "axis": null},
 "text": {"field": "t"}, "color": {"field": "k", "type": "nominal", "legend": null}}},
{"data": {"name": "tMono"}, "mark": {"type": "text", "align": "left", "baseline": "middle", "font": "Liberation Mono, DejaVu Sans Mono, monospace", "fontSize": 6}, "encoding": {
 "x": {"field": "i", "type": "quantitative", "axis": null}, "y": {"field": "p", "type": "quantitative", "axis": null},
 "text": {"field": "t"}, "color": {"field": "k", "type": "nominal", "legend": null}}},
{"data": {"name": "tCur"}, "mark": {"type": "text", "align": "left", "baseline": "middle", "font": "Liberation Mono, DejaVu Sans Mono, monospace", "fontSize": 6.5, "fontWeight": "bold"}, "encoding": {
 "x": {"field": "i", "type": "quantitative", "axis": null}, "y": {"field": "p", "type": "quantitative", "axis": null},
 "text": {"field": "t"}, "color": {"field": "k", "type": "nominal", "legend": null}}},
{"data": {"name": "tHead"}, "mark": {"type": "text", "align": "left", "baseline": "middle", "fontSize": 10, "fontWeight": "bold"}, "encoding": {
 "x": {"field": "i", "type": "quantitative", "axis": null}, "y": {"field": "p", "type": "quantitative", "axis": null},
 "text": {"field": "t"}, "color": {"field": "k", "type": "nominal", "legend": null}}},
{"data": {"name": "tPrice"}, "mark": {"type": "text", "align": "left", "baseline": "middle", "fontSize": 12, "fontWeight": "bold"}, "encoding": {
 "x": {"field": "i", "type": "quantitative", "axis": null}, "y": {"field": "p", "type": "quantitative", "axis": null},
 "text": {"field": "t"}, "color": {"field": "k", "type": "nominal", "legend": null}}},
{"data": {"name": "tSonic"}, "mark": {"type": "text", "align": "center", "baseline": "middle", "fontSize": 7.5, "fontWeight": "bold"}, "encoding": {
 "x": {"field": "i", "type": "quantitative", "axis": null}, "y": {"field": "p", "type": "quantitative", "axis": null},
 "text": {"field": "t"}, "color": {"field": "k", "type": "nominal", "legend": null}}},
{"data": {"name": "tTF"}, "mark": {"type": "text", "align": "center", "baseline": "middle", "fontSize": 7, "fontWeight": "bold"}, "encoding": {
 "x": {"field": "i", "type": "quantitative", "axis": null}, "y": {"field": "p", "type": "quantitative", "axis": null},
 "text": {"field": "t"}, "color": {"field": "k", "type": "nominal", "legend": null}}},
{"data": {"name": "tArrow"}, "mark": {"type": "text", "align": "center", "baseline": "middle", "fontSize": 10, "fontWeight": "bold", "font": "DejaVu Sans"}, "encoding": {
 "x": {"field": "i", "type": "quantitative", "axis": null}, "y": {"field": "p", "type": "quantitative", "axis": null},
 "text": {"field": "t"}, "color": {"field": "k", "type": "nominal", "legend": null}}},
{"data": {"name": "xlab"}, "mark": {"type": "rule", "strokeWidth": 1, "color": "#d0d0d0"}, "encoding": {
 "x": {"field": "i", "type": "quantitative", "axis": null},
 "y": {"datum": 0.67174, "type": "quantitative", "axis": null}, "y2": {"datum": 0.67127}}},
{"data": {"name": "xlab"}, "mark": {"type": "text", "align": "left", "baseline": "middle", "fontSize": 6, "color": "#d0d0d0", "dx": 1}, "encoding": {
 "x": {"field": "i", "type": "quantitative", "axis": null},
 "y": {"datum": 0.67046, "type": "quantitative", "axis": null}, "text": {"field": "t"}}},
{"data": {"name": "ylab"}, "mark": {"type": "rule", "strokeWidth": 1, "color": "#e0e0e0"}, "encoding": {
 "x": {"datum": 250.96, "type": "quantitative", "axis": null}, "x2": {"datum": 251.8},
 "y": {"field": "p", "type": "quantitative", "axis": null}}},
{"data": {"name": "ylab"}, "mark": {"type": "text", "align": "left", "baseline": "middle", "fontSize": 6.5, "color": "#e0e0e0"}, "encoding": {
 "x": {"datum": 252.6, "type": "quantitative", "axis": null}, "y": {"field": "p", "type": "quantitative", "axis": null},
 "text": {"field": "p", "type": "quantitative", "format": ".5f"}}},
{"data": {"name": "axb"}, "mark": {"type": "rule", "strokeWidth": 7, "color": "#0c0ce6"}, "encoding": {
 "x": {"datum": 251.9, "type": "quantitative", "axis": null}, "x2": {"datum": 263.5},
 "y": {"field": "p", "type": "quantitative", "axis": null}}},
{"data": {"name": "axb"}, "mark": {"type": "text", "align": "left", "baseline": "middle", "fontSize": 6.5, "color": "#ffffff"}, "encoding": {
 "x": {"datum": 252.6, "type": "quantitative", "axis": null}, "y": {"field": "p", "type": "quantitative", "axis": null},
 "text": {"field": "p", "type": "quantitative", "format": ".5f"}}},
{"data": {"name": "cur"}, "mark": {"type": "rule", "strokeWidth": 7, "color": "#ffffff"}, "encoding": {
 "x": {"datum": 251.9, "type": "quantitative", "axis": null}, "x2": {"datum": 263.5},
 "y": {"field": "p", "type": "quantitative", "axis": null}}},
{"data": {"name": "cur"}, "mark": {"type": "text", "align": "left", "baseline": "middle", "fontSize": 6.5, "color": "#000000"}, "encoding": {
 "x": {"datum": 252.6, "type": "quantitative", "axis": null}, "y": {"field": "p", "type": "quantitative", "axis": null},
 "text": {"field": "p", "type": "quantitative", "format": ".5f"}}},
{"data": {"name": "hl"}, "mark": {"type": "rule", "strokeWidth": 9, "color": "#a8d4f0"}, "encoding": {
 "x": {"datum": 143.2, "type": "quantitative", "axis": null}, "x2": {"datum": 172.8},
 "y": {"field": "p", "type": "quantitative", "axis": null}}},
{"data": {"name": "hl"}, "mark": {"type": "text", "align": "center", "baseline": "middle", "fontSize": 6, "color": "#1c2430"}, "encoding": {
 "x": {"datum": 158, "type": "quantitative", "axis": null}, "y": {"field": "p", "type": "quantitative", "axis": null},
 "text": {"field": "t"}}}
]},
{"layer": [
{"data": {"name": "hbox"}, "mark": {"type": "rect", "color": "#1c1c1c"}, "encoding": {
 "x": {"datum": 173.5, "type": "quantitative", "scale": {"domain": [-0.84, 250.96], "nice": false, "zero": false}, "axis": null},
 "x2": {"datum": 251},
 "y": {"field": "lo", "type": "quantitative", "scale": {"domain": [5.4, 393.5], "nice": false, "zero": false}, "axis": null},
 "y2": {"field": "hi"}}},
{"data": {"name": "lev"}, "mark": {"type": "rule", "strokeWidth": 1, "color": "#787878", "strokeDash": [1, 2]}, "encoding": {
 "y": {"field": "v", "type": "quantitative", "axis": null}}},
{"data": {"name": "ohlc"}, "mark": {"type": "rule", "strokeWidth": 1.2}, "encoding": {
 "x": {"field": "i", "type": "quantitative", "axis": null},
 "y": {"field": "v", "type": "quantitative", "axis": null}, "y2": {"datum": 5.4},
 "color": {"field": "vc", "type": "nominal", "legend": null, "scale": {
  "domain": ["n","g","r","b","m","ub","lb","yl","gr","rd","hblue","hred"],
  "range": ["#55558f","#2ee02e","#f01c1c","#2a8cf0","#a040e0","#2e6ed0","#2e6ed0","#f0e020","#90f020","#f01818","#3c78e6","#e62020"]}}}},
{"data": {"name": "ind"}, "transform": [{"filter": "datum.k == 'ub' || datum.k == 'lb'"}], "mark": {"type": "line", "strokeWidth": 1.2}, "encoding": {
 "x": {"field": "i", "type": "quantitative", "axis": null}, "y": {"field": "v", "type": "quantitative", "axis": null},
 "color": {"field": "k", "type": "nominal", "legend": null}}},
{"data": {"name": "ind"}, "transform": [{"filter": "datum.k == 'yl'"}], "mark": {"type": "line", "strokeWidth": 1.6}, "encoding": {
 "x": {"field": "i", "type": "quantitative", "axis": null}, "y": {"field": "v", "type": "quantitative", "axis": null},
 "color": {"field": "k", "type": "nominal", "legend": null}}},
{"data": {"name": "ind"}, "transform": [{"filter": "datum.k == 'gr'"}], "mark": {"type": "line", "strokeWidth": 1.3}, "encoding": {
 "x": {"field": "i", "type": "quantitative", "axis": null}, "y": {"field": "v", "type": "quantitative", "axis": null},
 "color": {"field": "k", "type": "nominal", "legend": null}}},
{"data": {"name": "ind"}, "transform": [{"filter": "datum.k == 'rd'"}], "mark": {"type": "line", "strokeWidth": 1.6}, "encoding": {
 "x": {"field": "i", "type": "quantitative", "axis": null}, "y": {"field": "v", "type": "quantitative", "axis": null},
 "color": {"field": "k", "type": "nominal", "legend": null}}},
{"data": {"name": "ititle"}, "mark": {"type": "text", "align": "left", "baseline": "middle", "fontSize": 6, "color": "#c8c8c8"}, "encoding": {
 "x": {"field": "i", "type": "quantitative", "axis": null}, "y": {"field": "v", "type": "quantitative", "axis": null}, "text": {"field": "t"}}},
{"data": {"name": "hdr"}, "mark": {"type": "text", "align": "right", "baseline": "middle", "fontSize": 7, "fontWeight": "bold", "color": "#b4b4b4"}, "encoding": {
 "x": {"field": "i", "type": "quantitative", "axis": null}, "y": {"field": "v", "type": "quantitative", "axis": null}, "text": {"field": "t"}}},
{"data": {"name": "news"}, "mark": {"type": "text", "align": "right", "baseline": "middle", "fontSize": 6}, "encoding": {
 "x": {"field": "i", "type": "quantitative", "axis": null}, "y": {"field": "v", "type": "quantitative", "axis": null}, "text": {"field": "t"},
 "color": {"field": "k", "type": "nominal", "legend": null}}},
{"data": {"name": "iaxis"}, "mark": {"type": "text", "align": "left", "baseline": "middle", "fontSize": 6.5, "color": "#d8d8d8"}, "encoding": {
 "x": {"field": "i", "type": "quantitative", "axis": null}, "y": {"field": "v", "type": "quantitative", "axis": null}, "text": {"field": "t"}}}
]}
]
}
